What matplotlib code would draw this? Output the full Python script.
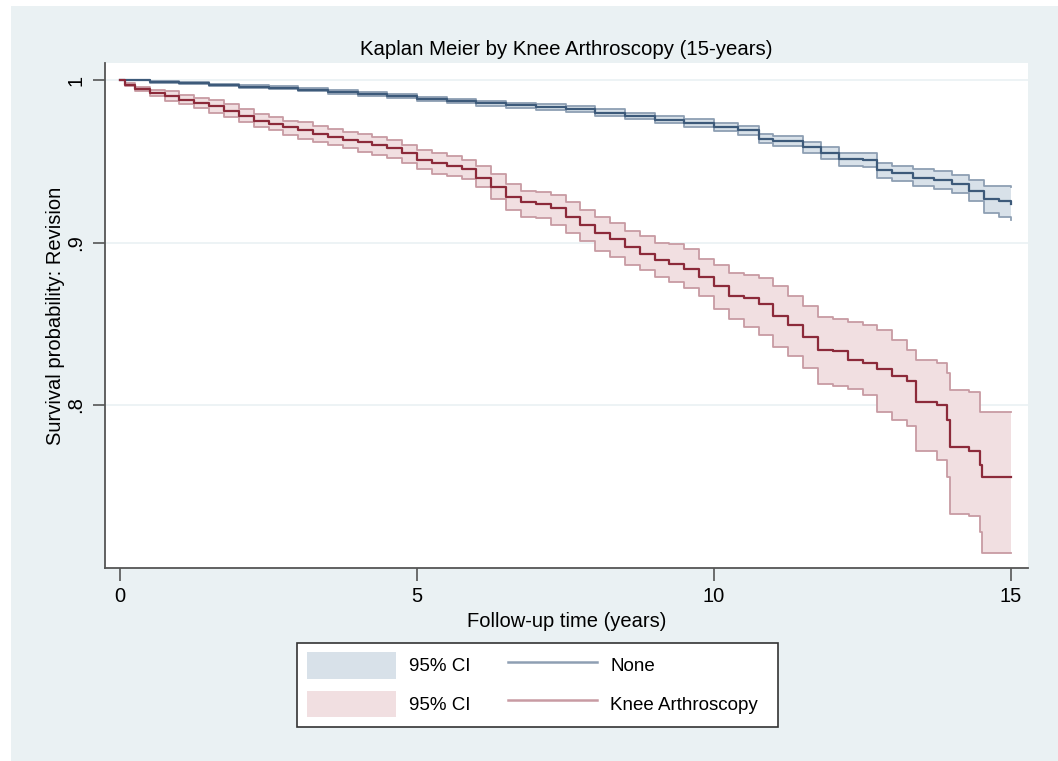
import matplotlib
matplotlib.use("Agg")
import matplotlib.pyplot as plt
from matplotlib.patches import Patch, Rectangle
from matplotlib.lines import Line2D
import numpy as np

plt.rcParams['font.family'] = ['Liberation Sans', 'DejaVu Sans']

# Knee Arthroscopy group: follow-up time (years), survival, 95% CI bounds
knee_t = [0, 0.08, 0.25, 0.5, 0.75, 1.0, 1.25, 1.5, 1.75, 2.0, 2.25, 2.5, 2.75, 3.0, 3.25,
          3.5, 3.75, 4.0, 4.25, 4.5, 4.75, 5.0, 5.25, 5.5, 5.75, 6.0, 6.25, 6.5, 6.75,
          7.0, 7.25, 7.5, 7.75, 8.0, 8.25, 8.5, 8.75, 9.0, 9.25, 9.5, 9.75, 10.0,
          10.25, 10.5, 10.75, 11.0, 11.25, 11.5, 11.75, 12.0, 12.25, 12.5, 12.75,
          13.0, 13.25, 13.4, 13.75, 13.92, 13.97, 14.3, 14.48, 14.52, 15.0]
knee_s = [1.000, 0.997, 0.9945, 0.992, 0.990, 0.9877, 0.986, 0.984, 0.981, 0.978, 0.975,
          0.973, 0.971, 0.969, 0.967, 0.965, 0.963, 0.962, 0.960, 0.958, 0.955,
          0.951, 0.949, 0.947, 0.945, 0.940, 0.934, 0.928, 0.925, 0.924, 0.921,
          0.916, 0.911, 0.906, 0.902, 0.897, 0.893, 0.889, 0.887, 0.884, 0.879,
          0.873, 0.867, 0.866, 0.862, 0.855, 0.849, 0.842, 0.834, 0.833, 0.828,
          0.826, 0.822, 0.818, 0.815, 0.802, 0.800, 0.791, 0.774, 0.772, 0.763,
          0.756, 0.756]
knee_lo = [1.000, 0.9962, 0.993, 0.990, 0.987, 0.985, 0.983, 0.980, 0.977, 0.974, 0.971,
           0.969, 0.966, 0.964, 0.962, 0.960, 0.958, 0.956, 0.954, 0.952, 0.949,
           0.945, 0.942, 0.941, 0.939, 0.934, 0.927, 0.920, 0.916, 0.915, 0.911,
           0.906, 0.901, 0.895, 0.891, 0.886, 0.883, 0.879, 0.876, 0.872, 0.867,
           0.859, 0.853, 0.848, 0.843, 0.836, 0.830, 0.823, 0.813, 0.812, 0.810,
           0.806, 0.796, 0.791, 0.787, 0.772, 0.766, 0.756, 0.733, 0.732, 0.722,
           0.709, 0.709]
knee_hi = [1.000, 0.9982, 0.996, 0.994, 0.993, 0.991, 0.989, 0.988, 0.985, 0.982, 0.979,
           0.977, 0.975, 0.974, 0.972, 0.970, 0.968, 0.967, 0.965, 0.963, 0.960,
           0.957, 0.955, 0.953, 0.951, 0.947, 0.942, 0.936, 0.932, 0.931, 0.929,
           0.925, 0.920, 0.916, 0.912, 0.907, 0.904, 0.900, 0.899, 0.896, 0.890,
           0.886, 0.881, 0.880, 0.878, 0.873, 0.867, 0.861, 0.854, 0.853, 0.851,
           0.849, 0.846, 0.840, 0.834, 0.828, 0.826, 0.820, 0.809, 0.808, 0.796,
           0.796, 0.796]

# No arthroscopy group
none_t = [0, 0.5, 1, 1.5, 2, 2.5, 3, 3.5, 4, 4.5, 5, 5.5, 6, 6.5, 7, 7.5, 8, 8.5,
          9, 9.5, 10, 10.4, 10.75, 11.0, 11.5, 11.8, 12.1, 12.5, 12.75, 13.0, 13.35,
          13.7, 14.0, 14.3, 14.55, 14.8, 15.0]
none_s = [1.0, 0.9990, 0.9982, 0.9970, 0.9960, 0.9952, 0.9940, 0.9928, 0.9915,
          0.9900, 0.9885, 0.9870, 0.9858, 0.9845, 0.9835, 0.9820, 0.9800, 0.9780,
          0.9755, 0.9735, 0.9712, 0.9690, 0.9640, 0.9625, 0.9587, 0.9550, 0.9512,
          0.9510, 0.9445, 0.9425, 0.9400, 0.9385, 0.9360, 0.9320, 0.9270, 0.9255,
          0.9240]
none_lo = [1.0, 0.9983, 0.9974, 0.9961, 0.9950, 0.9942, 0.9930, 0.9917, 0.9903,
           0.9888, 0.9872, 0.9856, 0.9843, 0.9829, 0.9818, 0.9802, 0.9781, 0.9760,
           0.9733, 0.9712, 0.9687, 0.9662, 0.9610, 0.9594, 0.9553, 0.9513, 0.9472,
           0.9468, 0.9400, 0.9378, 0.9350, 0.9332, 0.9303, 0.9258, 0.9180, 0.9160,
           0.9136]
none_hi = [1.0, 0.9996, 0.9989, 0.9978, 0.9969, 0.9961, 0.9950, 0.9939, 0.9927,
           0.9912, 0.9898, 0.9884, 0.9873, 0.9861, 0.9852, 0.9838, 0.9819, 0.9800,
           0.9777, 0.9758, 0.9737, 0.9718, 0.9670, 0.9656, 0.9621, 0.9587, 0.9552,
           0.9552, 0.9490, 0.9472, 0.9450, 0.9438, 0.9417, 0.9382, 0.9350, 0.9345,
           0.9340]

bg = '#EAF1F3'
blue_line = '#3D5A7A'
blue_fill = '#D8E1E9'
blue_edge = '#8E9FB3'
red_line = '#8C2A3A'
red_fill = '#F1DFE1'
red_edge = '#C89BA3'

W, H = 1058, 761
fig = plt.figure(figsize=(W / 100, H / 100), dpi=100)
fig.patch.set_facecolor('white')
fig.patches.append(Rectangle((11 / W, 0), 1 - 11 / W, 1 - 6 / H,
                             transform=fig.transFigure, facecolor=bg,
                             edgecolor='none', zorder=-10))

ax = fig.add_axes([105 / W, 1 - 568 / H, 923 / W, 505 / H])
ax.set_facecolor('white')

for t, s, lo, hi, lc, fc, ec in [(none_t, none_s, none_lo, none_hi, blue_line, blue_fill, blue_edge),
                                 (knee_t, knee_s, knee_lo, knee_hi, red_line, red_fill, red_edge)]:
    ax.fill_between(t, lo, hi, step='post', color=fc, linewidth=0, zorder=2)
    ax.step(t, lo, where='post', color=ec, linewidth=1.3, zorder=3)
    ax.step(t, hi, where='post', color=ec, linewidth=1.3, zorder=3)
    ax.step(t, s, where='post', color=lc, linewidth=1.6, zorder=4)

ax.set_xlim(-0.2525, 15.286)
ax.set_ylim(0.6997, 1.0105)
ax.set_xticks([0, 5, 10, 15])
ax.set_xticklabels(['0', '5', '10', '15'])
ax.set_yticks([0.8, 0.9, 1.0])
ax.set_yticklabels(['.8', '.9', '1'], rotation=90, va='center')
ax.yaxis.grid(True, color='#EAF1F3', linewidth=1.2, zorder=0)
ax.set_axisbelow(True)

for side in ['top', 'right']:
    ax.spines[side].set_visible(False)
for side in ['left', 'bottom']:
    ax.spines[side].set_color('#555555')
    ax.spines[side].set_linewidth(1.3)
ax.tick_params(axis='both', colors='#555555', labelcolor='black', length=9,
               width=1.2, labelsize=14.5, pad=5)

ax.set_title('Kaplan Meier by Knee Arthroscopy (15-years)', fontsize=14.7, pad=6)
ax.set_xlabel('Follow-up time (years)', fontsize=14.5, labelpad=4)
ax.set_ylabel('Survival probability: Revision', fontsize=14.5, labelpad=1)

# legend frame drawn separately (uneven inner padding as in the original)
fig.patches.append(Rectangle((297 / W, 1 - 727 / H), 481 / W, 84 / H,
                             transform=fig.transFigure, facecolor='white',
                             edgecolor='#333333', linewidth=1.2, zorder=5))
handles = [Patch(facecolor=blue_fill, edgecolor='none'),
           Patch(facecolor=red_fill, edgecolor='none'),
           Line2D([], [], color=blue_edge, linewidth=1.8),
           Line2D([], [], color=red_edge, linewidth=1.8)]
labels = ['95% CI', '95% CI', 'None', 'Knee Arthroscopy']
leg = fig.legend(handles, labels, ncol=2, loc='upper left',
                 bbox_to_anchor=(307 / W, 1 - 652 / H), bbox_transform=fig.transFigure,
                 fontsize=13.5, frameon=False, handlelength=4.75, handleheight=1.8,
                 handletextpad=0.7, columnspacing=2.0, borderaxespad=0, borderpad=0,
                 labelspacing=0.65)
leg.set_zorder(6)

fig.savefig('out.png', dpi=100, facecolor=fig.get_facecolor())
